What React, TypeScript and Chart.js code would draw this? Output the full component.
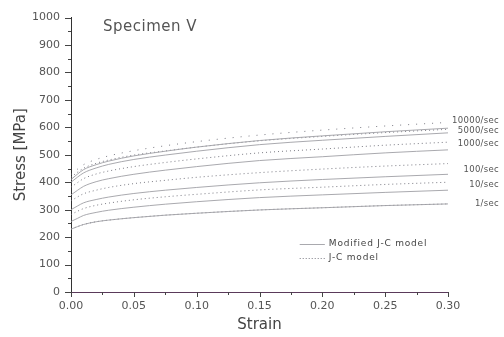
import React, { useEffect, useRef } from "react";
import { Chart, registerables } from "chart.js";

Chart.register(...registerables);

const strain = [0, 0.005, 0.01, 0.02, 0.03, 0.05, 0.075, 0.1, 0.15, 0.2, 0.25, 0.3];

// Modified J-C model (solid)
const mod1 = [229, 238, 246, 256, 262, 271, 280, 287, 299, 307, 315, 321];
const mod10 = [257, 268, 279, 290, 298, 309, 320, 329, 344, 354, 363, 371];
const mod100 = [300, 313, 325, 337, 346, 359, 371, 381, 398, 410, 420, 429];
const mod1000 = [354, 370, 385, 402, 413, 429, 444, 457, 479, 493, 507, 518];
const mod5000 = [400, 418, 434, 452, 465, 483, 499, 513, 537, 553, 567, 580];
const mod10000 = [410, 429, 446, 464, 477, 496, 513, 528, 552, 569, 584, 597];

// J-C model (dotted)
const jc1 = [229, 238, 246, 256, 262, 271, 280, 287, 299, 307, 315, 321];
const jc10 = [282, 294, 304, 316, 324, 336, 347, 356, 372, 382, 392, 400];
const jc100 = [332, 346, 358, 371, 381, 395, 407, 418, 435, 448, 459, 468];
const jc1000 = [382, 398, 413, 430, 441, 457, 472, 485, 507, 521, 535, 546];
const jc5000 = [418, 436, 451, 469, 481, 499, 514, 528, 551, 567, 581, 593];
const jc10000 = [428, 447, 464, 483, 496, 515, 533, 548, 572, 590, 605, 618];

const rateLabels = ["10000/sec", "5000/sec", "1000/sec", "100/sec", "10/sec", "1/sec"];
const rateLabelStress = [625, 586, 539, 446, 389, 323];

const legendLabels = ["Modified J-C model", "J-C model"];
const titleText = "Specimen V";

const FONT = "'DejaVu Sans', sans-serif";

export default function App() {
  const ref = useRef<HTMLCanvasElement | null>(null);

  useEffect(() => {
    const canvas = ref.current;
    if (!canvas) return;

    const pts = (ys: number[]) => strain.map((x, i) => ({ x, y: ys[i] }));
    const solidColor = "rgba(160,160,165,0.9)";
    const dotColor = "rgba(110,110,120,0.9)";
    const solid = (ys: number[]) => ({
      data: pts(ys),
      borderColor: solidColor,
      borderWidth: 1,
      pointRadius: 0,
      cubicInterpolationMode: "monotone" as const,
      fill: false,
    });
    const dotted = (ys: number[], gap = 3) => ({
      data: pts(ys),
      borderColor: dotColor,
      borderWidth: 1,
      borderDash: [1, gap],
      pointRadius: 0,
      cubicInterpolationMode: "monotone" as const,
      fill: false,
    });

    const overlay = {
      id: "overlay",
      afterDraw(chart: any) {
        const ctx = chart.ctx as CanvasRenderingContext2D;
        const xs = chart.scales.x;
        const ys = chart.scales.y;
        const area = chart.chartArea;
        ctx.save();
        // y ticks
        ctx.strokeStyle = "#444";
        ctx.lineWidth = 1;
        for (let v = 0; v <= 1000; v += 50) {
          const py = Math.round(ys.getPixelForValue(v)) + 0.5;
          const len = v % 100 === 0 ? 6 : 3;
          ctx.beginPath();
          ctx.moveTo(area.left - len, py);
          ctx.lineTo(area.left, py);
          ctx.stroke();
        }
        // x ticks
        for (let i = 0; i <= 12; i++) {
          const v = i * 0.025;
          const px = Math.round(xs.getPixelForValue(v)) + 0.5;
          const len = i % 2 === 0 ? 5 : 3;
          ctx.beginPath();
          ctx.moveTo(px, area.bottom);
          ctx.lineTo(px, area.bottom + len);
          ctx.stroke();
        }
        // rate labels
        ctx.fillStyle = "#555";
        ctx.font = `8.5px ${FONT}`;
        ctx.textBaseline = "middle";
        ctx.textAlign = "right";
        (ctx as any).letterSpacing = "0.3px";
        rateLabels.forEach((t, i) => {
          ctx.fillText(t, 499, ys.getPixelForValue(rateLabelStress[i]));
        });
        // legend
        ctx.textAlign = "left";
        const lx0 = xs.getPixelForValue(0.182);
        const lx1 = xs.getPixelForValue(0.202);
        const ly0 = ys.getPixelForValue(175);
        const ly1 = ys.getPixelForValue(125);
        ctx.strokeStyle = solidColor;
        ctx.beginPath();
        ctx.moveTo(lx0, Math.round(ly0) + 0.5);
        ctx.lineTo(lx1, Math.round(ly0) + 0.5);
        ctx.stroke();
        ctx.strokeStyle = dotColor;
        ctx.setLineDash([1, 2]);
        ctx.beginPath();
        ctx.moveTo(lx0, Math.round(ly1) + 0.5);
        ctx.lineTo(lx1, Math.round(ly1) + 0.5);
        ctx.stroke();
        ctx.setLineDash([]);
        ctx.fillStyle = "#444";
        ctx.font = `9px ${FONT}`;
        (ctx as any).letterSpacing = "0.8px";
        ctx.fillText(legendLabels[0], lx1 + 4, ly0);
        ctx.fillText(legendLabels[1], lx1 + 4, ly1);
        // title
        ctx.font = `15px ${FONT}`;
        (ctx as any).letterSpacing = "0.5px";
        ctx.fillStyle = "#555";
        ctx.fillText(titleText, 103, ys.getPixelForValue(965));
        ctx.restore();
      },
    };

    const chart = new Chart(canvas, {
      type: "line",
      data: {
        datasets: [
          solid(mod1), solid(mod10), solid(mod100), solid(mod1000), solid(mod5000), solid(mod10000),
          dotted(jc1), dotted(jc10), dotted(jc100), dotted(jc1000), dotted(jc5000), dotted(jc10000, 7),
        ] as any,
      },
      options: {
        animation: false,
        responsive: false,
        maintainAspectRatio: false,
        layout: { padding: { top: 13, right: 56, left: 0, bottom: 0 } },
        plugins: { legend: { display: false }, tooltip: { enabled: false } },
        scales: {
          x: {
            type: "linear",
            min: 0,
            max: 0.3,
            grid: { display: true, drawOnChartArea: false, drawTicks: false },
            border: { display: true, color: "#5a3a5a", width: 1 },
            ticks: {
              stepSize: 0.05,
              padding: 8,
              color: "#555",
              font: { family: FONT, size: 11 },
              maxRotation: 0,
              callback: (v: any) => Number(v).toFixed(2),
            },
            title: {
              display: true,
              text: "Strain",
              color: "#444",
              font: { family: FONT, size: 15 },
              padding: { top: 0, bottom: 3 },
            },
            afterFit: (s: any) => { s.height = 45; },
          },
          y: {
            min: 0,
            max: 1000,
            grid: { display: true, drawOnChartArea: false, drawTicks: false },
            border: { display: true, color: "#333", width: 1 },
            ticks: {
              stepSize: 100,
              padding: 11,
              color: "#555",
              font: { family: FONT, size: 11 },
              callback: (v: any) => String(v),
            },
            title: {
              display: true,
              text: "Stress [MPa]",
              color: "#444",
              font: { family: FONT, size: 15 },
              padding: { top: 12, bottom: 0 },
            },
            afterFit: (s: any) => { s.width = 71; },
          },
        },
      },
      plugins: [overlay],
    });

    return () => chart.destroy();
  }, []);

  return (
    <div style={{ position: "fixed", left: 0, top: 0, width: 504, height: 337, background: "#fff" }}>
      <canvas ref={ref} width={504} height={337} style={{ width: 504, height: 337 }} />
    </div>
  );
}
